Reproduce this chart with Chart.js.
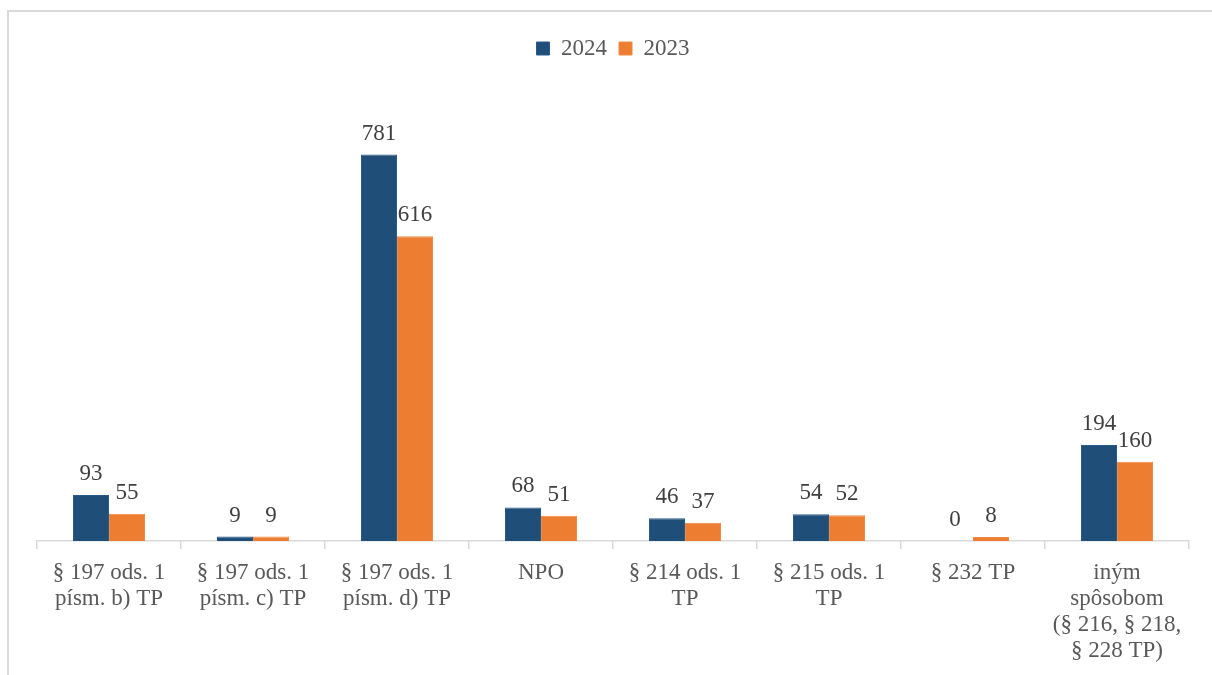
<!DOCTYPE html>
<html lang="sk">
<head>
    <meta charset="UTF-8">
    <title>Bar Chart</title>
    <script src="https://cdn.jsdelivr.net/npm/chart.js@4.4.1/dist/chart.umd.min.js"></script>
    <style>
        body { margin: 0; background: #fff; }
        #frame {
            position: absolute; left: 7px; top: 10px; width: 1300px; height: 800px;
            border-top: 2px solid #d9d9d9; border-left: 2px solid #d9d9d9;
        }
        canvas { position: absolute; left: 0; top: 0; }
    </style>
</head>
<body>
    <div id="frame"></div>
    <canvas id="barChart" width="1212" height="675"></canvas>
    <script>
        const categories = [
            ['§ 197 ods. 1', 'písm. b) TP'],
            ['§ 197 ods. 1', 'písm. c) TP'],
            ['§ 197 ods. 1', 'písm. d) TP'],
            'NPO',
            ['§ 214 ods. 1', 'TP'],
            ['§ 215 ods. 1', 'TP'],
            '§ 232 TP',
            ['iným', 'spôsobom', '(§ 216, § 218,', '§ 228 TP)']
        ];
        const values2024 = [93, 9, 781, 68, 46, 54, 0, 194];
        const values2023 = [55, 9, 616, 51, 37, 52, 8, 160];

        const serif = "'Liberation Serif', 'Times New Roman', serif";

        // value labels above bars
        const valueLabels = {
            id: 'valueLabels',
            afterDatasetsDraw(chart) {
                const ctx = chart.ctx;
                ctx.save();
                ctx.font = '23px ' + serif;
                ctx.fillStyle = '#404040';
                ctx.textAlign = 'center';
                ctx.textBaseline = 'alphabetic';
                chart.data.datasets.forEach((ds, i) => {
                    chart.getDatasetMeta(i).data.forEach((bar, j) => {
                        ctx.fillText(ds.data[j], bar.x, bar.y - 15);
                    });
                });
                ctx.restore();
            }
        };

        const ctx = document.getElementById('barChart').getContext('2d');
        new Chart(ctx, {
            type: 'bar',
            data: {
                labels: categories,
                datasets: [
                    { label: '2024', data: values2024, backgroundColor: '#1f4e79', borderColor: '#2a5a88', borderWidth: 1 },
                    { label: '2023', data: values2023, backgroundColor: '#ed7d31', borderColor: '#ef8a46', borderWidth: 1 }
                ]
            },
            options: {
                responsive: false,
                animation: false,
                categoryPercentage: 0.5,
                barPercentage: 1,
                layout: { padding: { left: 37, right: 23, top: 25, bottom: 0 } },
                plugins: {
                    legend: {
                        position: 'top',
                        labels: {
                            boxWidth: 13, boxHeight: 13, padding: 12,
                            color: '#595959',
                            font: { family: serif, size: 23 }
                        }
                    },
                    tooltip: { enabled: false }
                },
                scales: {
                    x: {
                        grid: { drawOnChartArea: false, color: '#d9d9d9', tickLength: 8, lineWidth: 1.5 },
                        border: { color: '#d9d9d9', width: 1.5 },
                        ticks: {
                            color: '#595959', padding: 11, maxRotation: 0, autoSkip: false,
                            font: { family: serif, size: 23, lineHeight: 1.13 }
                        }
                    },
                    y: {
                        display: false,
                        min: 0,
                        max: 952
                    }
                }
            },
            plugins: [valueLabels]
        });
    </script>
</body>
</html>
